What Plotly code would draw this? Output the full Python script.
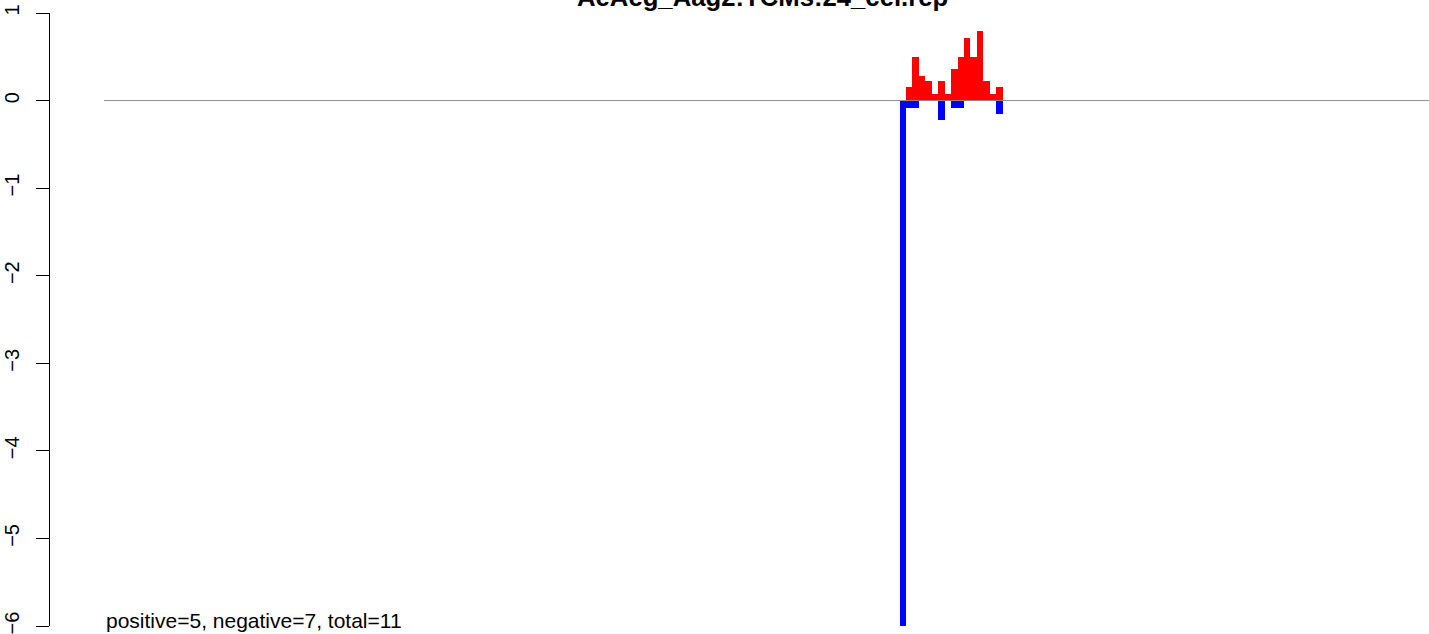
import plotly.graph_objects as go

title = "AeAeg_Aag2:TCMs:24_cel.rep"
bins = list(range(16))
pos_vals = [0, 0.15, 0.50, 0.285, 0.22, 0.07, 0.22, 0.07, 0.355, 0.50, 0.72, 0.50, 0.79, 0.22, 0.07, 0.15]
neg_vals = [-6.2, -0.08, -0.08, 0, 0, 0, -0.22, 0, -0.08, -0.08, 0, 0, 0, 0, 0, -0.15]
summary = "positive=5, negative=7, total=11"
y_ticks = [1, 0, -1, -2, -3, -4, -5, -6]

X_RANGE = [-132.4, 81.7]
Y_RANGE = [-6, 1]
LINE_START = -124.0
EXTRA_TOP = 30  # hidden band above the window so the cut-off title can be drawn
PLOT_H = 613

fig = go.Figure()
fig.add_trace(go.Scatter(x=[LINE_START, X_RANGE[1]], y=[0, 0], mode="lines",
                         line=dict(color="#8c8c8c", width=1), hoverinfo="skip", showlegend=False))
fig.add_trace(go.Bar(x=bins, y=pos_vals, width=1, marker=dict(color="#FF0000", line=dict(width=0)),
                     showlegend=False))
fig.add_trace(go.Bar(x=bins, y=neg_vals, width=1, marker=dict(color="#0000FF", line=dict(width=0)),
                     showlegend=False))

fig.update_layout(
    width=1429, height=634 + EXTRA_TOP,
    margin=dict(l=50, r=0, t=13 + EXTRA_TOP, b=8, pad=0),
    paper_bgcolor="white", plot_bgcolor="white",
    barmode="overlay", bargap=0,
    font=dict(family="Liberation Sans, Arial, sans-serif", color="black", size=21),
    xaxis=dict(range=X_RANGE, visible=False, showgrid=False, zeroline=False, fixedrange=True),
    yaxis=dict(range=Y_RANGE, tickvals=y_ticks, ticktext=[str(v).replace("-", "\u2212") for v in y_ticks],
               showline=True, linecolor="black", linewidth=1,
               ticks="outside", ticklen=13, tickwidth=1, tickcolor="black",
               tickangle=-90, showgrid=False, zeroline=False, ticklabelstandoff=9,
               ticklabeloverflow="allow",
               tickfont=dict(size=20, color="black")),
    annotations=[
        dict(text="<b>" + title + "</b>", xref="paper", yref="paper", x=(762.5 - 50) / 1379,
             y=1 + (13 + 2.9) / PLOT_H,
             xanchor="center", yanchor="middle", showarrow=False,
             font=dict(size=25.7, color="black", family="Liberation Sans, Arial, sans-serif")),
        dict(text=summary, xref="x", yref="y", x=LINE_START, y=1 - (620.7 - 13) / 87.571,
             xanchor="left", yanchor="middle", showarrow=False,
             font=dict(size=21, color="black")),
    ],
)
post = ("document.body.style.margin='0';document.body.style.overflow='hidden';"
        "var d=document.getElementById('{plot_id}');d.style.marginTop='-%dpx';" % EXTRA_TOP)
fig.write_html("out.html", post_script=post)
